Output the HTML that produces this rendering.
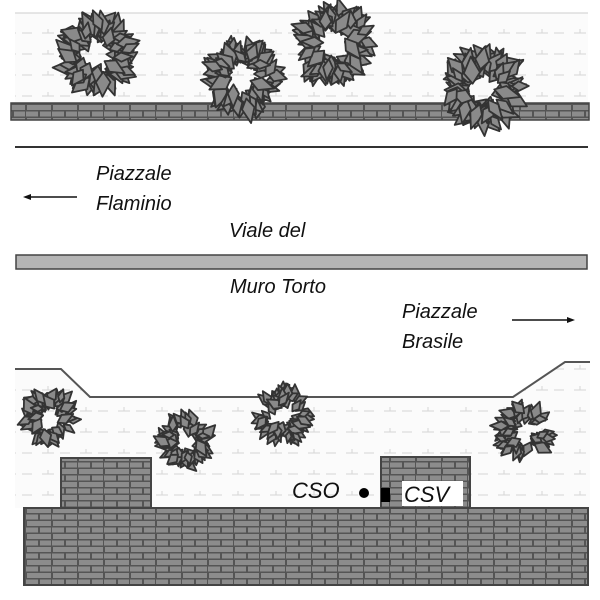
<!DOCTYPE html>
<html><head><meta charset="utf-8"><style>
html,body{margin:0;padding:0;background:#fff;width:600px;height:600px;overflow:hidden}
text{font-family:"Liberation Sans",sans-serif;font-style:italic;font-size:20px;fill:#111}
</style></head><body>
<svg id="s" width="600" height="600" viewBox="0 0 600 600" xmlns="http://www.w3.org/2000/svg">
<defs>
<pattern id="brick" width="26" height="13" patternUnits="userSpaceOnUse">
<rect width="26" height="13" fill="#555"/>
<rect x="1" y="1" width="24" height="5" fill="#8c8c8c"/>
<rect x="0" y="7.5" width="12" height="5" fill="#8c8c8c"/>
<rect x="14" y="7.5" width="11" height="5" fill="#8c8c8c"/>
</pattern>
<pattern id="pave" width="38" height="21" patternUnits="userSpaceOnUse">
<rect width="38" height="21" fill="#fbfbfb"/>
<path d="M4 12h12M10 8v4M22 12h10" stroke="#d6d6d6" stroke-width="1" fill="none"/>
</pattern>
</defs>
<rect x="15" y="13" width="573" height="91" fill="url(#pave)"/>
<line x1="15" y1="13" x2="588" y2="13" stroke="#ccc" stroke-width="1"/>
<rect x="11" y="103" width="578" height="17" fill="url(#brick)" stroke="#444" stroke-width="1.5"/>
<g id="trees1"></g>
<line x1="15" y1="147" x2="588" y2="147" stroke="#333" stroke-width="2"/>
<rect x="16" y="255" width="571" height="14" fill="#b5b5b5" stroke="#444" stroke-width="1.5"/>
<text x="96" y="180">Piazzale</text>
<text x="96" y="210">Flaminio</text>
<line x1="30" y1="197" x2="77" y2="197" stroke="#111" stroke-width="1.5"/>
<path d="M23 197l8-3v6z" fill="#111"/>
<text x="229" y="237">Viale del</text>
<text x="230" y="293">Muro Torto</text>
<text x="402" y="318">Piazzale</text>
<text x="402" y="348">Brasile</text>
<line x1="512" y1="320" x2="568" y2="320" stroke="#111" stroke-width="1.5"/>
<path d="M575 320l-8-3v6z" fill="#111"/>
<path d="M15 370H61L90 397H513L565 362H590V508H15Z" fill="url(#pave)"/>
<path d="M15 369H61L90 397H513L565 362H590" fill="none" stroke="#555" stroke-width="2"/>
<g id="trees2"></g>
<rect x="61" y="458" width="90" height="51" fill="url(#brick)" stroke="#444" stroke-width="2"/>
<rect x="381" y="457" width="89" height="52" fill="url(#brick)" stroke="#444" stroke-width="2"/>
<rect x="24" y="508" width="564" height="77" fill="url(#brick)" stroke="#444" stroke-width="2"/>
<rect x="402" y="481" width="61" height="25" fill="#fff"/>
<text x="404" y="502" style="font-size:22px">CSV</text>
<text x="292" y="498" style="font-size:22px">CSO</text>
<circle cx="364" cy="493" r="5" fill="#000"/>
<rect x="381" y="488" width="9" height="14" fill="#000"/>
</svg>
<script>
(function(){
var seed=11;function r(){seed=(seed*16807)%2147483647;return seed/2147483647;}
var ns="http://www.w3.org/2000/svg";
function add(g,cx,cy,R){
 var t=document.createElementNS(ns,"g");g.appendChild(t);
 var n=Math.round(R*2.2);
 for(var i=0;i<n;i++){
  var a=r()*Math.PI*2,d=R*(0.45+r()*0.35);
  var x=cx+Math.cos(a)*d,y=cy+Math.sin(a)*d;
  var L=R*(0.18+r()*0.12),W=L*(0.45+r()*0.2);
  var rot=a*180/Math.PI+(r()-0.5)*80;
  var p=document.createElementNS(ns,"path");
  p.setAttribute("d","M"+(-L)+" 0L"+(-L*0.2)+" "+(-W)+"L"+L+" 0L"+(-L*0.2)+" "+W+"Z");
  p.setAttribute("transform","translate("+x.toFixed(1)+","+y.toFixed(1)+") rotate("+rot.toFixed(0)+")");
  p.setAttribute("fill","#8a8a8a");p.setAttribute("stroke","#333");p.setAttribute("stroke-width","1.8");p.setAttribute("stroke-linejoin","round");
  t.appendChild(p);
 }}
var g1=document.getElementById("trees1"),g2=document.getElementById("trees2");
add(g1,97,54,44);add(g1,243,77,43);add(g1,333,43,45);add(g1,484,88,46);
add(g2,50,417,32);add(g2,186,442,32);add(g2,284,416,32);add(g2,524,432,32);
})();
</script>
</body></html>
